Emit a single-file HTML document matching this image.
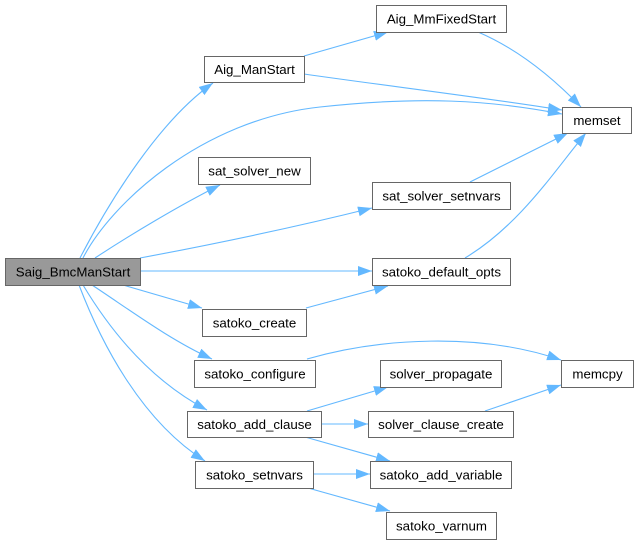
<!DOCTYPE html>
<html><head><meta charset="utf-8"><style>
html,body{margin:0;padding:0;background:#fff;}
svg{display:block;}
text{font-family:"Liberation Sans",Arial,sans-serif;font-size:13.3px;fill:#000;}
.b{fill:#fff;stroke:#666;stroke-width:1;}
.e{fill:none;stroke:#63b8ff;stroke-width:1.1;}
</style></head><body>
<svg width="638" height="544" viewBox="0 0 638 544" xmlns="http://www.w3.org/2000/svg">
<defs>
<marker id="a" markerUnits="userSpaceOnUse" markerWidth="16" markerHeight="12" refX="14" refY="5" orient="auto">
<path d="M0,0 L14,5 L0,10 z" fill="#63b8ff"/>
</marker>
</defs>
<g class="e" marker-end="url(#a)">
<path d="M80,258 C110,200 160,120 213,83"/>
<path d="M83,258 C110,205 200,120 320,107 C420,96 490,100 562,114"/>
<path d="M95,258 C130,235 180,205 220,185"/>
<path d="M140,258 C220,243 300,226 372,208"/>
<path d="M140,271 L372,271"/>
<path d="M123,285 L202,308"/>
<path d="M92,285 C130,310 170,340 212,359"/>
<path d="M83,285 C110,330 150,380 207,410"/>
<path d="M79,285 C100,340 140,420 205,461"/>
<path d="M304,56 L388,32"/>
<path d="M304,74 C380,85 480,97 562,110"/>
<path d="M478,32 C520,50 555,80 581,107"/>
<path d="M470,182 L568,133"/>
<path d="M465,258 C520,225 555,170 586,133"/>
<path d="M306,308 L388,286"/>
<path d="M307,359 C380,338 480,332 561,360"/>
<path d="M307,411 L388,387"/>
<path d="M321,424 L368,424"/>
<path d="M305,437 L390,461"/>
<path d="M485,411 L561,385"/>
<path d="M313,474 L370,474"/>
<path d="M308,488 L390,511"/>
</g>
<rect x="5.5" y="258.5" width="135" height="27" fill="#999" stroke="#666"/>
<text x="73" y="276.5" text-anchor="middle">Saig_BmcManStart</text>

<rect class="b" x="204.5" y="56.5" width="100" height="26"/>
<text x="254.5" y="74" text-anchor="middle">Aig_ManStart</text>

<rect class="b" x="198.5" y="157.5" width="112" height="27"/>
<text x="254.5" y="175.5" text-anchor="middle">sat_solver_new</text>

<rect class="b" x="376.5" y="5.5" width="130" height="27"/>
<text x="441.5" y="23.5" text-anchor="middle">Aig_MmFixedStart</text>

<rect class="b" x="562.5" y="107.5" width="69" height="26"/>
<text x="597" y="125" text-anchor="middle">memset</text>

<rect class="b" x="372.5" y="182.5" width="138" height="27"/>
<text x="441.5" y="200.5" text-anchor="middle">sat_solver_setnvars</text>

<rect class="b" x="372.5" y="258.5" width="138" height="27"/>
<text x="441.5" y="276.5" text-anchor="middle">satoko_default_opts</text>

<rect class="b" x="202.5" y="309.5" width="104" height="27"/>
<text x="254.5" y="327.5" text-anchor="middle">satoko_create</text>

<rect class="b" x="194.5" y="360.5" width="121" height="27"/>
<text x="255" y="378.5" text-anchor="middle">satoko_configure</text>

<rect class="b" x="187.5" y="411.5" width="134" height="26"/>
<text x="254.5" y="429" text-anchor="middle">satoko_add_clause</text>

<rect class="b" x="195.5" y="461.5" width="118" height="27"/>
<text x="254.5" y="479.5" text-anchor="middle">satoko_setnvars</text>

<rect class="b" x="561.5" y="360.5" width="72" height="27"/>
<text x="597.5" y="378.5" text-anchor="middle">memcpy</text>

<rect class="b" x="380.5" y="360.5" width="121" height="27"/>
<text x="441" y="378.5" text-anchor="middle">solver_propagate</text>

<rect class="b" x="368.5" y="411.5" width="145" height="26"/>
<text x="441" y="429" text-anchor="middle">solver_clause_create</text>

<rect class="b" x="370.5" y="461.5" width="141" height="27"/>
<text x="441" y="479.5" text-anchor="middle">satoko_add_variable</text>

<rect class="b" x="386.5" y="512.5" width="110" height="27"/>
<text x="441.5" y="530.5" text-anchor="middle">satoko_varnum</text>
</svg>
</body></html>
